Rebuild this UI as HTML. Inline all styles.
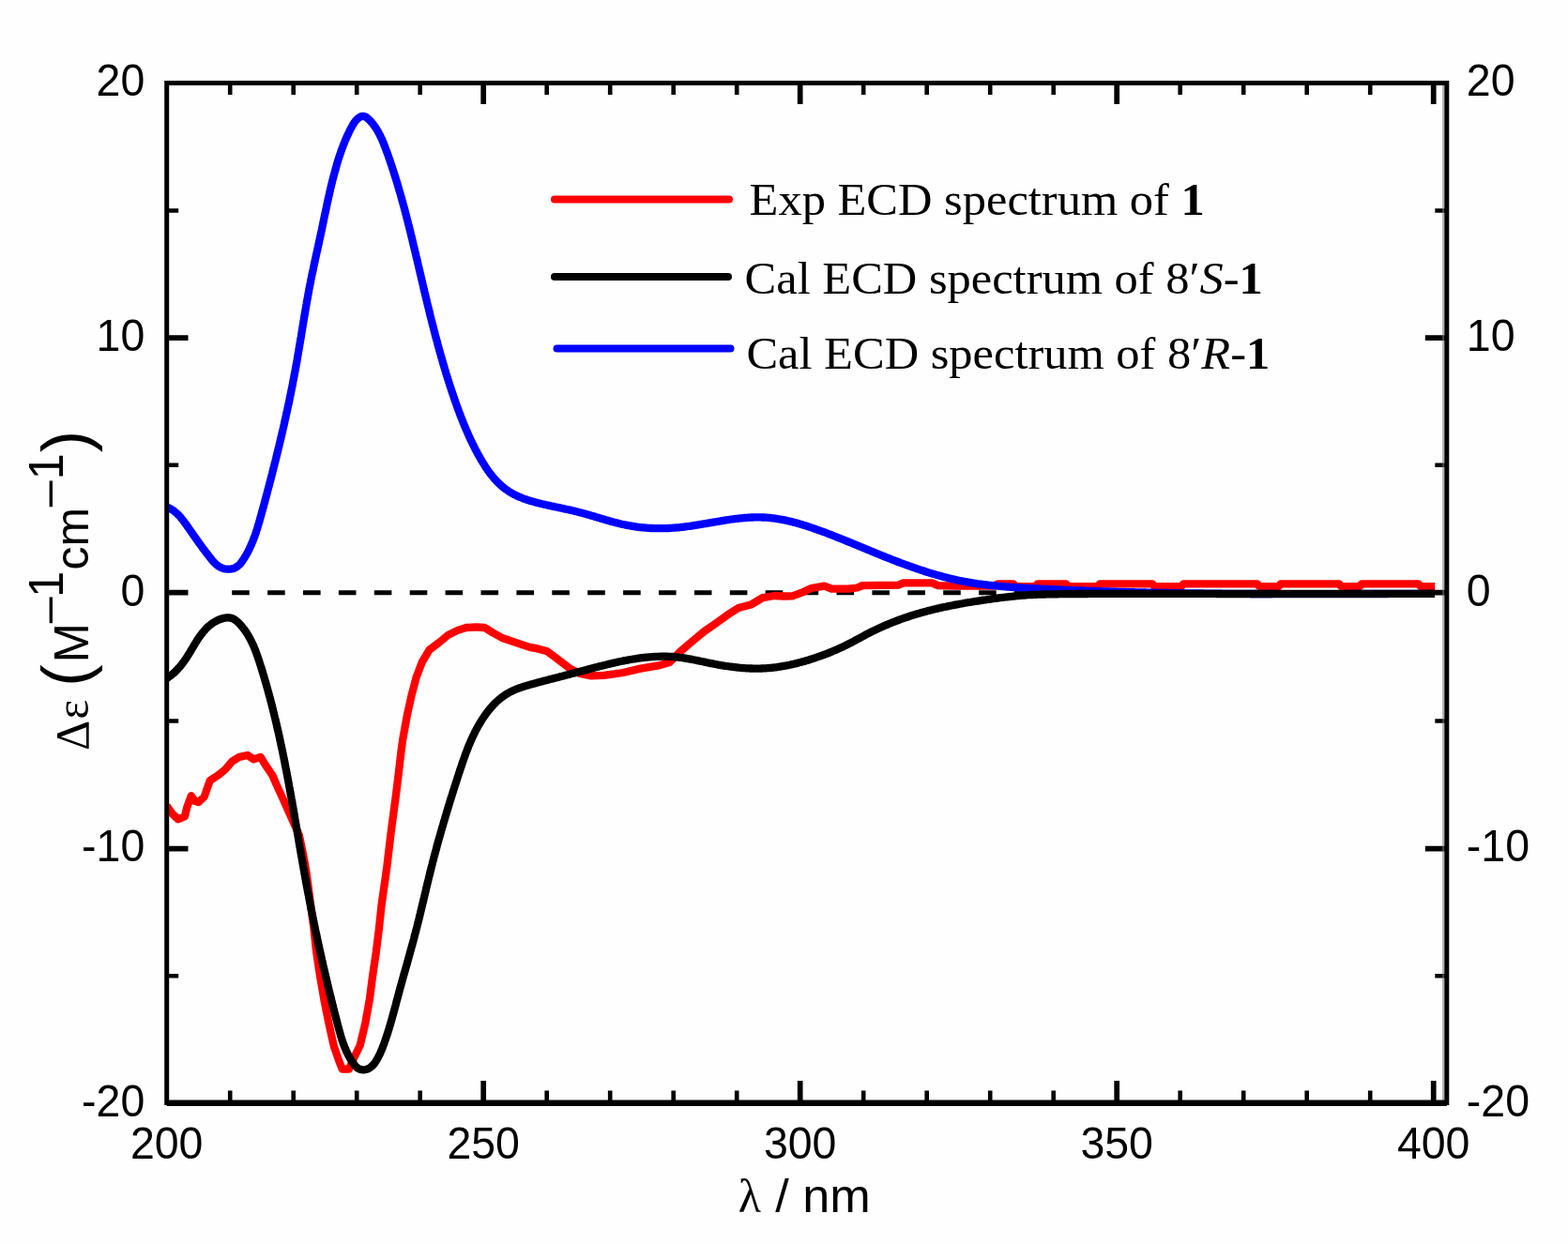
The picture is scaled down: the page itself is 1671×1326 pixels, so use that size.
<!DOCTYPE html>
<html lang="en">
<head>
<meta charset="utf-8">
<title>ECD spectra</title>
<style>
html,body{margin:0;padding:0;background:#fefefe;}
body{width:1671px;height:1326px;overflow:hidden;}
svg{display:block;}
.sans{font-family:"Liberation Sans",Arial,Helvetica,sans-serif;}
.serif{font-family:"Liberation Serif","Times New Roman",Times,serif;}
</style>
</head>
<body>
<svg width="1671" height="1326" viewBox="0 0 1671 1326">
<rect width="1671" height="1326" fill="#fefefe"/>
<defs><clipPath id="pc"><rect x="177.7" y="88.5" width="1364.1" height="1087.1"/></clipPath></defs>
<g fill="none" stroke-linejoin="round" stroke-linecap="butt" clip-path="url(#pc)">
<path d="M247.2,631.7h18.6M285.1,631.7h18.6M323.0,631.7h18.6M360.9,631.7h18.6M398.8,631.7h18.6M436.7,631.7h18.6M474.6,631.7h18.6M512.5,631.7h18.6M550.4,631.7h18.6M588.3,631.7h18.6M626.2,631.7h18.6M664.1,631.7h18.6M702.0,631.7h18.6M739.9,631.7h18.6M777.8,631.7h18.6M815.7,631.7h18.6M853.6,631.7h18.6M891.5,631.7h18.6M929.4,631.7h18.6M967.3,631.7h18.6M1005.2,631.7h18.6M1043.1,631.7h18.6M1081.0,631.7h18.6M1118.9,631.7h18.6M1156.8,631.7h18.6M1194.7,631.7h18.6M1232.6,631.7h18.6M1270.5,631.7h18.6M1308.4,631.7h18.6M1346.3,631.7h18.6M1384.2,631.7h18.6M1422.1,631.7h18.6M1460.0,631.7h18.6M1497.9,631.7h18.6" stroke="#000" stroke-width="5.1"/>
<path d="M177.7,859.0L179.4,861.4L183.8,867.7L190.0,873.3L196.9,870.2L199.4,860.1L203.8,848.2L207.6,853.9L211.3,855.1L217.6,849.5L221.3,838.9L223.8,832.0L232.6,826.3L240.1,820.1L247.6,811.3L255.1,806.9L263.9,805.0L270.2,809.4L277.7,806.9L282.7,815.1L290.2,826.3L295.2,837.6L301.5,851.4L306.5,862.6L313.0,877.0L318.8,890.2L321.9,905.2L324.4,917.7L326.9,932.8L330.5,960.0L334.5,990.0L337.2,1015.0L341.0,1040.1L345.3,1065.1L350.3,1090.2L355.8,1115.2L361.3,1131.0L364.8,1139.7L371.8,1139.7L377.3,1127.5L383.8,1114.0L389.4,1090.2L393.9,1065.1L397.1,1040.1L400.8,1015.0L403.9,990.0L406.5,965.3L412.2,925.2L416.6,887.7L421.6,850.1L424.7,825.0L427.6,800.0L429.3,787.7L433.8,762.7L438.8,740.2L443.8,721.4L450.1,705.1L457.6,692.6L467.6,685.1L477.6,676.9L487.7,671.9L497.7,668.8L507.7,668.5L516.5,669.0L525.2,674.4L535.2,680.0L550.3,685.1L565.3,690.1L572.0,691.2L582.5,693.9L591.6,700.5L600.4,707.3L607.6,712.8L618.0,718.0L630.0,720.3L643.5,719.8L654.6,718.4L663.9,717.0L682.7,712.6L701.7,709.4L713.5,706.0L725.0,694.5L738.0,683.4L750.5,673.0L763.0,664.3L775.1,655.6L787.0,648.0L800.2,644.6L812.7,637.1L825.2,635.0L835.2,635.5L844.5,635.4L854.5,631.7L864.5,627.0L878.5,624.7L886.0,627.5L903.8,627.7L913.6,626.5L919.1,624.1L957.3,623.6L962.8,621.4L993.7,621.4L999.2,624.1L1017.3,624.7L1058.0,624.7L1063.6,622.3L1080.0,622.3L1082.0,625.1L1103.6,625.1L1105.6,622.3L1136.3,622.3L1138.3,625.1L1170.0,625.1L1172.0,622.3L1228.2,622.3L1230.2,625.1L1259.1,625.1L1261.1,622.3L1340.0,622.3L1342.0,625.1L1362.7,625.1L1364.7,622.3L1427.2,622.3L1429.2,625.1L1449.0,625.1L1451.0,622.3L1511.8,622.3L1513.8,625.1L1529.2,625.1" stroke="#ff0000" stroke-width="8.3"/>
<path d="M177.6,540.4L179.0,541.0L180.4,541.7L181.8,542.4L183.1,543.1L184.3,543.9L185.5,544.8L186.7,545.7L187.8,546.7L188.9,547.7L190.0,548.8L191.0,549.8L192.0,550.9L193.0,552.1L194.0,553.3L194.9,554.4L195.8,555.6L196.7,556.9L197.6,558.1L198.5,559.3L199.4,560.5L200.2,561.8L201.1,563.0L202.0,564.3L202.8,565.5L203.7,566.7L204.5,567.9L205.4,569.2L206.2,570.4L207.1,571.6L207.9,572.8L208.8,574.0L209.7,575.2L210.5,576.5L211.4,577.7L212.2,578.9L213.1,580.1L214.0,581.3L214.8,582.5L215.7,583.7L216.6,584.9L217.5,586.1L218.4,587.3L219.3,588.5L220.2,589.7L221.2,590.9L222.1,592.1L223.0,593.3L224.0,594.5L225.0,595.7L225.9,596.9L226.9,598.1L228.0,599.2L229.0,600.3L230.1,601.4L231.3,602.4L232.5,603.3L233.7,604.1L235.1,604.8L236.4,605.4L237.9,605.9L239.3,606.3L240.8,606.5L242.3,606.7L243.8,606.7L245.3,606.6L246.8,606.4L248.2,606.1L249.5,605.7L250.9,605.1L252.1,604.3L253.3,603.5L254.4,602.5L255.5,601.5L256.5,600.4L257.4,599.2L258.3,597.9L259.2,596.6L260.0,595.3L260.8,594.0L261.6,592.7L262.4,591.4L263.2,590.0L263.9,588.7L264.6,587.3L265.3,586.0L265.9,584.6L266.6,583.2L267.2,581.9L267.8,580.5L268.4,579.1L269.0,577.7L269.6,576.3L270.1,574.9L270.6,573.5L271.2,572.1L271.7,570.7L272.2,569.3L272.7,567.9L273.1,566.5L273.6,565.0L274.1,563.6L274.5,562.2L274.9,560.8L275.4,559.3L275.8,557.9L276.2,556.5L276.6,555.0L277.0,553.6L277.4,552.1L277.8,550.7L278.2,549.3L278.6,547.8L279.0,546.4L279.4,544.9L279.8,543.5L280.2,542.0L280.6,540.6L281.0,539.1L281.4,537.7L281.8,536.2L282.2,534.8L282.5,533.4L282.9,531.9L283.3,530.5L283.7,529.0L284.1,527.6L284.5,526.1L284.9,524.7L285.2,523.2L285.6,521.8L286.0,520.3L286.4,518.9L286.8,517.4L287.2,516.0L287.5,514.5L287.9,513.1L288.3,511.6L288.7,510.2L289.0,508.7L289.4,507.3L289.8,505.8L290.2,504.4L290.5,502.9L290.9,501.4L291.3,500.0L291.6,498.5L292.0,497.1L292.4,495.6L292.7,494.2L293.1,492.7L293.5,491.3L293.8,489.8L294.2,488.4L294.5,486.9L294.9,485.4L295.3,484.0L295.6,482.5L296.0,481.1L296.3,479.6L296.7,478.2L297.0,476.7L297.4,475.2L297.7,473.8L298.1,472.3L298.4,470.9L298.8,469.4L299.1,467.9L299.5,466.5L299.8,465.0L300.2,463.6L300.5,462.1L300.8,460.6L301.2,459.2L301.5,457.7L301.9,456.2L302.2,454.8L302.5,453.3L302.9,451.9L303.2,450.4L303.5,448.9L303.8,447.5L304.2,446.0L304.5,444.5L304.8,443.1L305.1,441.6L305.5,440.1L305.8,438.7L306.1,437.2L306.4,435.7L306.7,434.3L307.0,432.8L307.4,431.3L307.7,429.9L308.0,428.4L308.3,426.9L308.6,425.5L308.9,424.0L309.2,422.5L309.5,421.1L309.8,419.6L310.1,418.1L310.4,416.6L310.7,415.2L311.0,413.7L311.3,412.2L311.6,410.8L311.9,409.3L312.1,407.8L312.4,406.3L312.7,404.9L313.0,403.4L313.3,401.9L313.6,400.4L313.8,399.0L314.1,397.5L314.4,396.0L314.7,394.5L314.9,393.1L315.2,391.6L315.5,390.1L315.7,388.6L316.0,387.2L316.3,385.7L316.5,384.2L316.8,382.7L317.0,381.3L317.3,379.8L317.5,378.3L317.8,376.8L318.0,375.3L318.3,373.9L318.5,372.4L318.8,370.9L319.0,369.4L319.3,367.9L319.5,366.5L319.8,365.0L320.0,363.5L320.3,362.0L320.5,360.5L320.8,359.1L321.0,357.6L321.2,356.1L321.5,354.6L321.7,353.1L322.0,351.7L322.2,350.2L322.5,348.7L322.7,347.2L322.9,345.7L323.2,344.3L323.4,342.8L323.7,341.3L323.9,339.8L324.2,338.3L324.4,336.9L324.7,335.4L324.9,333.9L325.2,332.4L325.4,331.0L325.7,329.5L325.9,328.0L326.2,326.5L326.4,325.0L326.7,323.6L326.9,322.1L327.2,320.6L327.5,319.1L327.7,317.7L328.0,316.2L328.3,314.7L328.5,313.2L328.8,311.8L329.1,310.3L329.3,308.8L329.6,307.3L329.9,305.9L330.2,304.4L330.5,302.9L330.8,301.5L331.1,300.0L331.3,298.5L331.6,297.0L331.9,295.6L332.2,294.1L332.5,292.6L332.8,291.2L333.2,289.7L333.5,288.2L333.8,286.8L334.1,285.3L334.4,283.8L334.7,282.4L335.0,280.9L335.3,279.4L335.7,278.0L336.0,276.5L336.3,275.0L336.6,273.6L336.9,272.1L337.2,270.7L337.6,269.2L337.9,267.7L338.2,266.3L338.5,264.8L338.9,263.3L339.2,261.9L339.5,260.4L339.8,258.9L340.1,257.5L340.4,256.0L340.8,254.5L341.1,253.1L341.4,251.6L341.7,250.1L342.0,248.7L342.3,247.2L342.7,245.7L343.0,244.3L343.3,242.8L343.6,241.3L343.9,239.8L344.2,238.4L344.5,236.9L344.8,235.4L345.1,234.0L345.4,232.5L345.7,231.0L346.0,229.6L346.3,228.1L346.7,226.6L347.0,225.1L347.3,223.7L347.6,222.2L347.9,220.7L348.2,219.3L348.5,217.8L348.8,216.3L349.1,214.9L349.5,213.4L349.8,211.9L350.1,210.5L350.4,209.0L350.8,207.5L351.1,206.1L351.4,204.6L351.8,203.2L352.1,201.7L352.4,200.2L352.8,198.8L353.1,197.3L353.5,195.9L353.9,194.4L354.2,193.0L354.6,191.5L354.9,190.1L355.3,188.6L355.7,187.2L356.1,185.7L356.5,184.3L356.9,182.8L357.3,181.4L357.7,179.9L358.1,178.5L358.5,177.1L358.9,175.6L359.3,174.2L359.7,172.8L360.2,171.3L360.6,169.9L361.1,168.5L361.5,167.0L362.0,165.6L362.5,164.2L363.0,162.8L363.4,161.4L363.9,160.0L364.5,158.6L365.0,157.2L365.5,155.8L366.0,154.4L366.6,153.0L367.2,151.6L367.7,150.2L368.3,148.8L368.9,147.4L369.5,146.0L370.1,144.7L370.8,143.3L371.4,141.9L372.1,140.6L372.7,139.2L373.4,137.9L374.1,136.5L374.9,135.2L375.6,133.8L376.4,132.5L377.2,131.2L378.1,129.9L379.1,128.7L380.1,127.5L381.3,126.4L382.5,125.4L383.7,124.6L385.0,124.1L386.3,123.8L387.5,123.9L388.8,124.2L390.0,124.8L391.2,125.6L392.3,126.6L393.5,127.7L394.6,128.8L395.6,130.0L396.6,131.2L397.6,132.4L398.5,133.6L399.4,134.9L400.3,136.1L401.1,137.4L401.9,138.7L402.7,140.0L403.4,141.3L404.1,142.6L404.8,144.0L405.5,145.3L406.1,146.7L406.8,148.0L407.4,149.4L408.0,150.8L408.5,152.2L409.1,153.6L409.6,155.0L410.2,156.4L410.7,157.8L411.2,159.2L411.7,160.6L412.3,162.0L412.8,163.4L413.3,164.8L413.8,166.2L414.3,167.7L414.8,169.1L415.3,170.5L415.8,171.9L416.2,173.3L416.7,174.8L417.2,176.2L417.7,177.6L418.1,179.0L418.6,180.4L419.1,181.9L419.5,183.3L420.0,184.7L420.4,186.2L420.9,187.6L421.3,189.0L421.8,190.4L422.2,191.9L422.7,193.3L423.1,194.7L423.5,196.2L424.0,197.6L424.4,199.0L424.8,200.5L425.2,201.9L425.6,203.4L426.1,204.8L426.5,206.2L426.9,207.7L427.3,209.1L427.7,210.6L428.1,212.0L428.5,213.4L428.9,214.9L429.3,216.3L429.7,217.8L430.1,219.2L430.5,220.7L430.9,222.1L431.3,223.6L431.6,225.0L432.0,226.5L432.4,227.9L432.8,229.4L433.2,230.8L433.5,232.3L433.9,233.7L434.3,235.2L434.7,236.6L435.0,238.1L435.4,239.5L435.8,241.0L436.1,242.4L436.5,243.9L436.8,245.3L437.2,246.8L437.6,248.3L437.9,249.7L438.3,251.2L438.6,252.6L439.0,254.1L439.3,255.5L439.7,257.0L440.0,258.5L440.4,259.9L440.7,261.4L441.1,262.8L441.4,264.3L441.8,265.8L442.1,267.2L442.5,268.7L442.8,270.1L443.2,271.6L443.5,273.1L443.9,274.5L444.2,276.0L444.6,277.4L444.9,278.9L445.2,280.4L445.6,281.8L445.9,283.3L446.3,284.7L446.6,286.2L446.9,287.7L447.3,289.1L447.6,290.6L448.0,292.1L448.3,293.5L448.7,295.0L449.0,296.4L449.3,297.9L449.7,299.4L450.0,300.8L450.4,302.3L450.7,303.7L451.1,305.2L451.4,306.7L451.7,308.1L452.1,309.6L452.4,311.1L452.8,312.5L453.1,314.0L453.5,315.4L453.8,316.9L454.2,318.4L454.5,319.8L454.9,321.3L455.2,322.7L455.6,324.2L455.9,325.7L456.3,327.1L456.7,328.6L457.0,330.0L457.4,331.5L457.7,332.9L458.1,334.4L458.4,335.9L458.8,337.3L459.2,338.8L459.5,340.2L459.9,341.7L460.3,343.1L460.6,344.6L461.0,346.1L461.4,347.5L461.8,349.0L462.1,350.4L462.5,351.9L462.9,353.3L463.3,354.8L463.6,356.2L464.0,357.7L464.4,359.1L464.8,360.6L465.2,362.0L465.6,363.5L465.9,364.9L466.3,366.4L466.7,367.8L467.1,369.3L467.5,370.7L467.9,372.2L468.3,373.6L468.7,375.0L469.1,376.5L469.5,377.9L469.9,379.4L470.3,380.8L470.8,382.3L471.2,383.7L471.6,385.1L472.0,386.6L472.4,388.0L472.9,389.4L473.3,390.9L473.7,392.3L474.1,393.8L474.6,395.2L475.0,396.6L475.4,398.1L475.9,399.5L476.3,400.9L476.8,402.3L477.2,403.8L477.7,405.2L478.1,406.6L478.6,408.1L479.0,409.5L479.5,410.9L479.9,412.3L480.4,413.8L480.9,415.2L481.3,416.6L481.8,418.0L482.3,419.4L482.8,420.9L483.3,422.3L483.7,423.7L484.2,425.1L484.7,426.5L485.2,427.9L485.7,429.3L486.2,430.8L486.7,432.2L487.2,433.6L487.7,435.0L488.2,436.4L488.8,437.8L489.3,439.2L489.8,440.6L490.3,442.0L490.9,443.4L491.4,444.8L492.0,446.2L492.5,447.6L493.1,449.0L493.6,450.4L494.2,451.7L494.7,453.1L495.3,454.5L495.9,455.9L496.5,457.3L497.1,458.7L497.7,460.0L498.3,461.4L498.9,462.8L499.5,464.2L500.1,465.5L500.7,466.9L501.4,468.3L502.0,469.6L502.7,471.0L503.3,472.3L504.0,473.7L504.7,475.0L505.3,476.4L506.0,477.7L506.7,479.1L507.4,480.4L508.1,481.8L508.8,483.1L509.5,484.4L510.3,485.8L511.0,487.1L511.8,488.4L512.5,489.7L513.3,491.0L514.1,492.3L514.9,493.6L515.7,494.9L516.5,496.2L517.3,497.5L518.1,498.7L519.0,500.0L519.8,501.2L520.7,502.4L521.6,503.7L522.5,504.9L523.4,506.0L524.3,507.2L525.3,508.4L526.2,509.5L527.2,510.6L528.2,511.7L529.2,512.8L530.2,513.9L531.3,514.9L532.3,515.9L533.4,516.9L534.5,517.9L535.6,518.9L536.8,519.8L537.9,520.7L539.1,521.6L540.3,522.4L541.5,523.3L542.7,524.1L544.0,524.8L545.3,525.6L546.6,526.3L547.9,527.0L549.2,527.7L550.6,528.3L551.9,529.0L553.3,529.6L554.7,530.2L556.1,530.7L557.5,531.3L558.9,531.8L560.4,532.3L561.8,532.8L563.3,533.3L564.7,533.7L566.2,534.2L567.7,534.6L569.2,535.0L570.6,535.4L572.1,535.8L573.6,536.2L575.1,536.6L576.6,536.9L578.1,537.3L579.6,537.6L581.0,538.0L582.5,538.3L584.0,538.6L585.5,538.9L586.9,539.3L588.4,539.6L589.9,539.9L591.3,540.2L592.8,540.5L594.2,540.8L595.7,541.1L597.1,541.4L598.6,541.7L600.0,542.0L601.5,542.4L602.9,542.7L604.4,543.0L605.8,543.3L607.3,543.6L608.7,543.9L610.1,544.3L611.6,544.6L613.0,545.0L614.5,545.3L615.9,545.7L617.4,546.0L618.8,546.4L620.2,546.8L621.7,547.2L623.1,547.6L624.6,548.0L626.0,548.4L627.5,548.8L628.9,549.2L630.4,549.7L631.8,550.1L633.3,550.5L634.7,551.0L636.2,551.4L637.6,551.8L639.1,552.3L640.5,552.7L642.0,553.1L643.4,553.6L644.9,554.0L646.4,554.4L647.8,554.8L649.3,555.3L650.7,555.7L652.2,556.1L653.7,556.5L655.1,556.8L656.6,557.2L658.0,557.6L659.5,558.0L661.0,558.3L662.4,558.7L663.9,559.0L665.4,559.3L666.8,559.6L668.3,559.9L669.8,560.2L671.3,560.4L672.7,560.7L674.2,560.9L675.7,561.2L677.1,561.4L678.6,561.6L680.1,561.8L681.6,562.0L683.1,562.1L684.5,562.3L686.0,562.4L687.5,562.6L689.0,562.7L690.5,562.8L691.9,562.9L693.4,563.0L694.9,563.0L696.4,563.1L697.9,563.1L699.3,563.2L700.8,563.2L702.3,563.2L703.8,563.2L705.3,563.2L706.8,563.2L708.3,563.2L709.8,563.1L711.2,563.1L712.7,563.0L714.2,562.9L715.7,562.8L717.2,562.7L718.7,562.6L720.2,562.5L721.7,562.4L723.1,562.3L724.6,562.1L726.1,561.9L727.6,561.8L729.1,561.6L730.6,561.4L732.1,561.2L733.6,561.0L735.1,560.8L736.6,560.6L738.1,560.4L739.5,560.1L741.0,559.9L742.5,559.7L744.0,559.4L745.5,559.2L747.0,558.9L748.5,558.7L750.0,558.4L751.5,558.2L753.0,557.9L754.5,557.7L756.0,557.4L757.5,557.2L758.9,556.9L760.4,556.6L761.9,556.4L763.4,556.1L764.9,555.9L766.4,555.6L767.9,555.4L769.4,555.1L770.9,554.9L772.4,554.6L773.9,554.4L775.3,554.2L776.8,554.0L778.3,553.7L779.8,553.5L781.3,553.3L782.8,553.1L784.3,552.9L785.8,552.8L787.3,552.6L788.8,552.4L790.2,552.3L791.7,552.1L793.2,552.0L794.7,551.9L796.2,551.8L797.7,551.7L799.2,551.6L800.7,551.5L802.1,551.5L803.6,551.4L805.1,551.4L806.6,551.4L808.1,551.4L809.6,551.4L811.1,551.4L812.5,551.5L814.0,551.5L815.5,551.6L817.0,551.7L818.5,551.8L819.9,551.9L821.4,552.1L822.9,552.3L824.4,552.4L825.9,552.6L827.3,552.8L828.8,553.1L830.3,553.3L831.8,553.6L833.2,553.8L834.7,554.1L836.2,554.4L837.7,554.7L839.1,555.1L840.6,555.4L842.1,555.7L843.5,556.1L845.0,556.5L846.4,556.9L847.9,557.2L849.4,557.6L850.8,558.1L852.3,558.5L853.7,558.9L855.2,559.3L856.6,559.8L858.1,560.2L859.5,560.7L861.0,561.2L862.4,561.6L863.8,562.1L865.3,562.6L866.7,563.1L868.1,563.6L869.5,564.1L871.0,564.6L872.4,565.1L873.8,565.6L875.2,566.1L876.6,566.6L878.1,567.2L879.5,567.7L880.9,568.2L882.3,568.8L883.7,569.3L885.1,569.8L886.5,570.4L887.9,570.9L889.3,571.5L890.6,572.0L892.0,572.6L893.4,573.1L894.8,573.7L896.2,574.2L897.6,574.8L899.0,575.3L900.4,575.9L901.7,576.5L903.1,577.0L904.5,577.6L905.9,578.2L907.3,578.7L908.6,579.3L910.0,579.9L911.4,580.4L912.8,581.0L914.2,581.6L915.5,582.1L916.9,582.7L918.3,583.3L919.7,583.9L921.0,584.4L922.4,585.0L923.8,585.6L925.2,586.2L926.6,586.7L927.9,587.3L929.3,587.9L930.7,588.4L932.1,589.0L933.5,589.6L934.9,590.1L936.3,590.7L937.7,591.3L939.0,591.8L940.4,592.4L941.8,593.0L943.2,593.5L944.6,594.1L946.0,594.6L947.4,595.2L948.8,595.7L950.2,596.3L951.6,596.8L953.0,597.4L954.4,597.9L955.8,598.5L957.2,599.0L958.6,599.5L960.0,600.1L961.5,600.6L962.9,601.1L964.3,601.6L965.7,602.1L967.1,602.7L968.5,603.2L969.9,603.7L971.3,604.2L972.8,604.7L974.2,605.2L975.6,605.7L977.0,606.2L978.4,606.6L979.9,607.1L981.3,607.6L982.7,608.1L984.2,608.5L985.6,609.0L987.0,609.5L988.4,609.9L989.9,610.4L991.3,610.8L992.7,611.2L994.2,611.7L995.6,612.1L997.1,612.5L998.5,612.9L999.9,613.3L1001.4,613.7L1002.8,614.1L1004.3,614.5L1005.7,614.9L1007.2,615.3L1008.6,615.6L1010.1,616.0L1011.5,616.4L1013.0,616.7L1014.4,617.1L1015.9,617.4L1017.4,617.7L1018.8,618.1L1020.3,618.4L1021.7,618.7L1023.2,619.0L1024.7,619.3L1026.1,619.6L1027.6,619.9L1029.1,620.1L1030.5,620.4L1032.0,620.7L1033.5,620.9L1035.0,621.1L1036.4,621.4L1037.9,621.6L1039.4,621.8L1040.9,622.1L1042.4,622.3L1043.8,622.5L1045.3,622.7L1046.8,622.9L1048.3,623.1L1049.8,623.2L1051.3,623.4L1052.8,623.6L1054.2,623.8L1055.7,623.9L1057.2,624.1L1058.7,624.2L1060.2,624.4L1061.7,624.5L1063.2,624.7L1064.7,624.8L1066.2,624.9L1067.7,625.1L1069.2,625.2L1070.7,625.3L1072.2,625.4L1073.7,625.6L1075.2,625.7L1076.7,625.8L1078.2,625.9L1079.7,626.0L1081.2,626.1L1082.7,626.2L1084.2,626.3L1085.7,626.4L1087.2,626.5L1088.7,626.6L1090.2,626.6L1091.7,626.7L1093.2,626.8L1094.7,626.9L1096.2,627.0L1097.7,627.1L1099.2,627.1L1100.7,627.2L1102.2,627.3L1103.7,627.4L1105.2,627.5L1106.7,627.5L1108.2,627.6L1109.7,627.7L1111.2,627.8L1112.7,627.8L1114.2,627.9L1115.7,628.0L1117.2,628.0L1118.7,628.1L1120.2,628.2L1121.7,628.2L1123.2,628.3L1124.7,628.4L1126.2,628.5L1127.7,628.5L1129.2,628.6L1130.7,628.7L1132.2,628.7L1133.7,628.8L1135.2,628.8L1136.7,628.9L1138.2,629.0L1139.7,629.0L1141.2,629.1L1142.7,629.2L1144.2,629.2L1145.7,629.3L1147.2,629.3L1148.7,629.4L1150.2,629.4L1151.7,629.5L1153.2,629.6L1154.7,629.6L1156.2,629.7L1157.7,629.7L1159.2,629.8L1160.7,629.8L1162.2,629.9L1163.7,629.9L1165.1,630.0L1166.6,630.0L1168.1,630.1L1169.6,630.1L1171.1,630.2L1172.6,630.2L1174.1,630.3L1175.6,630.3L1177.1,630.4L1178.6,630.4L1180.1,630.5L1181.6,630.5L1183.1,630.6L1184.6,630.6L1186.1,630.6L1187.6,630.7L1189.1,630.7L1190.6,630.8L1192.1,630.8L1193.6,630.9L1195.1,630.9L1196.6,630.9L1198.1,631.0L1199.6,631.0L1201.1,631.1L1202.6,631.1L1204.1,631.1L1205.6,631.2L1207.1,631.2L1208.6,631.2L1210.1,631.3L1211.6,631.3L1213.1,631.4L1214.6,631.4L1216.1,631.4L1217.6,631.5L1219.1,631.5L1220.6,631.5L1222.1,631.6L1223.6,631.6L1225.1,631.6L1226.6,631.7L1228.1,631.7L1229.6,631.7L1231.1,631.7L1232.6,631.8L1234.1,631.8L1235.6,631.8L1237.1,631.9L1238.6,631.9L1240.1,631.9L1241.6,631.9L1243.1,632.0L1244.6,632.0L1246.1,632.0L1247.6,632.1L1249.1,632.1L1250.6,632.1L1252.1,632.1L1253.6,632.2L1255.1,632.2L1256.6,632.2L1258.1,632.2L1259.6,632.2L1261.1,632.3L1262.6,632.3L1264.1,632.3L1265.6,632.3L1267.1,632.4L1268.6,632.4L1270.1,632.4L1271.6,632.4L1273.1,632.4L1274.6,632.5L1276.1,632.5L1277.6,632.5L1279.1,632.5L1280.6,632.5L1282.1,632.5L1283.6,632.6L1285.1,632.6L1286.6,632.6L1288.1,632.6L1289.6,632.6L1291.1,632.6L1292.6,632.7L1294.1,632.7L1295.6,632.7L1297.1,632.7L1298.6,632.7L1300.1,632.7L1301.6,632.7L1303.1,632.8L1304.6,632.8L1306.1,632.8L1307.6,632.8L1309.1,632.8L1310.6,632.8L1312.1,632.8L1313.6,632.8L1315.1,632.8L1316.6,632.9L1318.1,632.9L1319.6,632.9L1321.1,632.9L1322.6,632.9L1324.1,632.9L1325.6,632.9L1327.1,632.9L1328.6,632.9L1330.1,632.9L1331.6,632.9L1333.1,633.0L1334.6,633.0L1336.1,633.0L1337.6,633.0L1339.1,633.0L1340.6,633.0L1342.1,633.0L1343.6,633.0L1345.1,633.0L1346.6,633.0L1348.1,633.0L1349.6,633.0L1351.1,633.0L1352.6,633.0L1354.1,633.0L1355.6,633.0L1357.1,633.0L1358.6,633.0L1360.1,633.1L1361.6,633.1L1363.1,633.1L1364.6,633.1L1366.1,633.1L1367.6,633.1L1369.1,633.1L1370.6,633.1L1372.1,633.1L1373.6,633.1L1375.1,633.1L1376.6,633.1L1378.1,633.1L1379.6,633.1L1381.1,633.1L1382.6,633.1L1384.1,633.1L1385.6,633.1L1387.1,633.1L1388.6,633.1L1390.1,633.1L1391.6,633.1L1393.1,633.1L1394.6,633.1L1396.1,633.1L1397.6,633.1L1399.1,633.1L1400.6,633.1L1402.1,633.1L1403.6,633.1L1405.1,633.1L1406.6,633.1L1408.1,633.1L1409.6,633.1L1411.1,633.1L1412.6,633.1L1414.1,633.1L1415.6,633.1L1417.1,633.1L1418.6,633.1L1420.1,633.1L1421.6,633.1L1423.1,633.1L1424.6,633.1L1426.1,633.1L1427.6,633.1L1429.1,633.1L1430.6,633.1L1432.1,633.1L1433.6,633.1L1435.1,633.0L1436.6,633.0L1438.1,633.0L1439.6,633.0L1441.1,633.0L1442.6,633.0L1444.1,633.0L1445.6,633.0L1447.1,633.0L1448.6,633.0L1450.1,633.0L1451.6,633.0L1453.1,633.0L1454.6,633.0L1456.1,633.0L1457.6,633.0L1459.1,633.0L1460.6,633.0L1462.1,633.0L1463.6,633.0L1465.1,633.0L1466.6,633.0L1468.1,633.0L1469.6,633.0L1471.1,633.0L1472.6,633.0L1474.1,633.0L1475.6,633.0L1477.1,633.0L1478.6,633.0L1480.1,632.9L1481.6,632.9L1483.1,632.9L1484.6,632.9L1486.1,632.9L1487.6,632.9L1489.1,632.9L1490.6,632.9L1492.1,632.9L1493.6,632.9L1495.1,632.9L1496.6,632.9L1498.1,632.9L1499.6,632.9L1501.1,632.9L1502.6,632.9L1504.1,632.9L1505.6,632.9L1507.1,632.9L1508.6,632.9L1510.1,632.9L1511.6,632.9L1513.1,632.9L1514.6,632.9L1516.1,632.9L1517.6,632.9L1519.1,632.9L1520.6,632.9L1522.1,632.9L1523.6,632.9L1525.1,632.9L1526.6,632.9L1528.1,632.9L1529.0,632.9" stroke="#0000ff" stroke-width="8.3"/>
<path d="M177.7,723.0L179.0,722.2L180.2,721.3L181.5,720.4L182.7,719.5L183.8,718.5L185.0,717.6L186.1,716.6L187.2,715.5L188.2,714.5L189.2,713.4L190.2,712.3L191.2,711.2L192.2,710.1L193.1,708.9L194.0,707.7L194.9,706.6L195.8,705.4L196.7,704.1L197.5,702.9L198.4,701.7L199.2,700.4L200.0,699.1L200.8,697.9L201.6,696.6L202.4,695.3L203.2,694.0L203.9,692.7L204.7,691.4L205.5,690.1L206.3,688.8L207.1,687.5L207.8,686.2L208.6,684.9L209.4,683.6L210.2,682.3L211.1,681.1L211.9,679.8L212.8,678.6L213.6,677.4L214.5,676.2L215.4,675.0L216.3,673.8L217.3,672.7L218.3,671.6L219.3,670.5L220.3,669.4L221.4,668.4L222.5,667.4L223.7,666.4L224.8,665.5L226.0,664.6L227.3,663.8L228.6,663.0L229.9,662.2L231.3,661.5L232.7,660.8L234.2,660.2L235.7,659.7L237.2,659.2L238.7,658.8L240.2,658.6L241.7,658.4L243.1,658.4L244.6,658.5L246.0,658.7L247.4,659.1L248.7,659.7L249.9,660.4L251.2,661.2L252.3,662.1L253.5,663.1L254.6,664.2L255.6,665.3L256.6,666.4L257.6,667.6L258.6,668.7L259.5,669.9L260.4,671.1L261.3,672.4L262.1,673.6L263.0,674.8L263.8,676.1L264.5,677.4L265.3,678.7L266.0,680.0L266.7,681.3L267.4,682.6L268.1,684.0L268.7,685.3L269.4,686.7L270.0,688.0L270.6,689.4L271.1,690.8L271.7,692.2L272.3,693.6L272.8,695.0L273.3,696.4L273.8,697.8L274.3,699.2L274.8,700.6L275.3,702.1L275.8,703.5L276.3,704.9L276.7,706.4L277.2,707.8L277.6,709.2L278.1,710.7L278.5,712.1L279.0,713.6L279.4,715.0L279.9,716.4L280.3,717.9L280.7,719.3L281.2,720.8L281.6,722.2L282.0,723.7L282.4,725.1L282.9,726.6L283.3,728.0L283.7,729.4L284.1,730.9L284.5,732.3L284.9,733.8L285.3,735.2L285.7,736.7L286.1,738.1L286.5,739.6L286.9,741.0L287.3,742.5L287.7,743.9L288.1,745.4L288.4,746.8L288.8,748.3L289.2,749.7L289.6,751.2L289.9,752.6L290.3,754.1L290.7,755.5L291.0,757.0L291.4,758.4L291.8,759.9L292.1,761.4L292.5,762.8L292.8,764.3L293.2,765.7L293.5,767.2L293.9,768.6L294.2,770.1L294.5,771.5L294.9,773.0L295.2,774.5L295.6,775.9L295.9,777.4L296.2,778.8L296.6,780.3L296.9,781.8L297.2,783.2L297.5,784.7L297.9,786.1L298.2,787.6L298.5,789.1L298.8,790.5L299.1,792.0L299.4,793.5L299.7,794.9L300.1,796.4L300.4,797.9L300.7,799.3L301.0,800.8L301.3,802.3L301.6,803.7L301.9,805.2L302.2,806.7L302.5,808.1L302.8,809.6L303.1,811.1L303.4,812.5L303.6,814.0L303.9,815.5L304.2,816.9L304.5,818.4L304.8,819.9L305.1,821.4L305.4,822.8L305.6,824.3L305.9,825.8L306.2,827.2L306.5,828.7L306.8,830.2L307.0,831.7L307.3,833.1L307.6,834.6L307.9,836.1L308.1,837.6L308.4,839.0L308.7,840.5L308.9,842.0L309.2,843.5L309.5,844.9L309.7,846.4L310.0,847.9L310.3,849.4L310.5,850.9L310.8,852.3L311.1,853.8L311.3,855.3L311.6,856.8L311.8,858.3L312.1,859.7L312.4,861.2L312.6,862.7L312.9,864.2L313.1,865.6L313.4,867.1L313.6,868.6L313.9,870.1L314.2,871.6L314.4,873.1L314.7,874.5L314.9,876.0L315.2,877.5L315.4,879.0L315.7,880.5L315.9,881.9L316.2,883.4L316.5,884.9L316.7,886.4L317.0,887.9L317.2,889.3L317.5,890.8L317.7,892.3L318.0,893.8L318.2,895.3L318.5,896.7L318.7,898.2L319.0,899.7L319.2,901.2L319.5,902.7L319.8,904.1L320.0,905.6L320.3,907.1L320.5,908.6L320.8,910.1L321.0,911.5L321.3,913.0L321.6,914.5L321.8,916.0L322.1,917.5L322.3,918.9L322.6,920.4L322.9,921.9L323.1,923.4L323.4,924.8L323.6,926.3L323.9,927.8L324.2,929.3L324.4,930.8L324.7,932.2L325.0,933.7L325.2,935.2L325.5,936.7L325.8,938.1L326.0,939.6L326.3,941.1L326.6,942.6L326.8,944.0L327.1,945.5L327.4,947.0L327.7,948.5L327.9,949.9L328.2,951.4L328.5,952.9L328.8,954.3L329.1,955.8L329.3,957.3L329.6,958.8L329.9,960.2L330.2,961.7L330.5,963.2L330.8,964.6L331.1,966.1L331.3,967.6L331.6,969.0L331.9,970.5L332.2,972.0L332.5,973.4L332.8,974.9L333.1,976.4L333.4,977.8L333.7,979.3L334.0,980.8L334.3,982.2L334.6,983.7L334.9,985.2L335.2,986.6L335.5,988.1L335.8,989.6L336.1,991.0L336.4,992.5L336.7,994.0L337.0,995.4L337.4,996.9L337.7,998.4L338.0,999.8L338.3,1001.3L338.6,1002.7L338.9,1004.2L339.2,1005.7L339.6,1007.1L339.9,1008.6L340.2,1010.1L340.5,1011.5L340.8,1013.0L341.2,1014.5L341.5,1015.9L341.8,1017.4L342.1,1018.8L342.5,1020.3L342.8,1021.8L343.1,1023.2L343.5,1024.7L343.8,1026.1L344.1,1027.6L344.4,1029.1L344.8,1030.5L345.1,1032.0L345.5,1033.5L345.8,1034.9L346.1,1036.4L346.5,1037.8L346.8,1039.3L347.2,1040.8L347.5,1042.2L347.8,1043.7L348.2,1045.1L348.5,1046.6L348.9,1048.1L349.2,1049.5L349.6,1051.0L349.9,1052.4L350.3,1053.9L350.6,1055.4L351.0,1056.8L351.3,1058.3L351.7,1059.8L352.1,1061.2L352.4,1062.7L352.8,1064.1L353.1,1065.6L353.5,1067.1L353.9,1068.5L354.2,1070.0L354.6,1071.5L355.0,1072.9L355.3,1074.4L355.7,1075.8L356.1,1077.3L356.4,1078.8L356.8,1080.2L357.2,1081.7L357.5,1083.2L357.9,1084.6L358.3,1086.1L358.7,1087.5L359.1,1089.0L359.4,1090.5L359.8,1091.9L360.2,1093.4L360.6,1094.9L361.0,1096.3L361.4,1097.8L361.8,1099.2L362.2,1100.7L362.6,1102.1L363.0,1103.6L363.4,1105.0L363.9,1106.5L364.3,1107.9L364.8,1109.3L365.3,1110.7L365.8,1112.1L366.3,1113.6L366.8,1114.9L367.4,1116.3L367.9,1117.7L368.5,1119.1L369.1,1120.4L369.7,1121.8L370.4,1123.1L371.0,1124.4L371.7,1125.7L372.5,1127.0L373.2,1128.3L374.0,1129.6L374.8,1130.9L375.6,1132.1L376.4,1133.3L377.3,1134.5L378.2,1135.7L379.2,1136.8L380.3,1137.8L381.4,1138.7L382.7,1139.4L384.1,1139.9L385.5,1140.2L386.9,1140.3L388.4,1140.3L389.9,1140.0L391.4,1139.6L392.8,1139.0L394.1,1138.2L395.3,1137.3L396.5,1136.3L397.6,1135.2L398.6,1134.1L399.5,1132.8L400.4,1131.5L401.2,1130.2L402.0,1128.9L402.7,1127.5L403.5,1126.2L404.1,1124.8L404.8,1123.5L405.4,1122.1L406.0,1120.7L406.6,1119.3L407.2,1117.9L407.7,1116.5L408.2,1115.2L408.8,1113.8L409.3,1112.4L409.8,1110.9L410.3,1109.5L410.8,1108.1L411.3,1106.7L411.7,1105.3L412.2,1103.9L412.7,1102.5L413.1,1101.0L413.6,1099.6L414.0,1098.2L414.5,1096.8L414.9,1095.3L415.3,1093.9L415.8,1092.5L416.2,1091.0L416.6,1089.6L417.0,1088.1L417.4,1086.7L417.8,1085.3L418.2,1083.8L418.6,1082.4L419.0,1080.9L419.4,1079.5L419.8,1078.0L420.2,1076.6L420.6,1075.1L421.0,1073.7L421.4,1072.2L421.8,1070.8L422.1,1069.3L422.5,1067.9L422.9,1066.4L423.3,1065.0L423.7,1063.5L424.1,1062.1L424.5,1060.6L424.9,1059.2L425.2,1057.7L425.6,1056.3L426.0,1054.8L426.4,1053.4L426.8,1051.9L427.2,1050.5L427.6,1049.0L428.0,1047.6L428.4,1046.1L428.8,1044.7L429.2,1043.2L429.6,1041.8L430.0,1040.4L430.4,1038.9L430.8,1037.5L431.2,1036.0L431.7,1034.6L432.1,1033.1L432.5,1031.7L432.9,1030.2L433.3,1028.8L433.7,1027.4L434.1,1025.9L434.5,1024.5L434.9,1023.0L435.3,1021.6L435.7,1020.1L436.1,1018.7L436.5,1017.2L436.9,1015.8L437.3,1014.3L437.7,1012.9L438.1,1011.5L438.5,1010.0L438.9,1008.6L439.3,1007.1L439.7,1005.7L440.1,1004.2L440.5,1002.8L440.9,1001.3L441.3,999.9L441.6,998.4L442.0,997.0L442.4,995.5L442.8,994.1L443.2,992.6L443.5,991.2L443.9,989.7L444.3,988.3L444.6,986.8L445.0,985.4L445.4,983.9L445.7,982.5L446.1,981.0L446.5,979.6L446.8,978.1L447.2,976.6L447.5,975.2L447.9,973.7L448.2,972.3L448.6,970.8L448.9,969.4L449.3,967.9L449.6,966.4L450.0,965.0L450.3,963.5L450.7,962.1L451.0,960.6L451.4,959.1L451.7,957.7L452.1,956.2L452.4,954.8L452.8,953.3L453.1,951.8L453.5,950.4L453.8,948.9L454.1,947.5L454.5,946.0L454.8,944.6L455.2,943.1L455.5,941.6L455.9,940.2L456.2,938.7L456.6,937.3L456.9,935.8L457.3,934.3L457.7,932.9L458.0,931.4L458.4,930.0L458.7,928.5L459.1,927.1L459.5,925.6L459.8,924.2L460.2,922.7L460.6,921.3L460.9,919.8L461.3,918.3L461.7,916.9L462.1,915.4L462.4,914.0L462.8,912.5L463.2,911.1L463.6,909.6L464.0,908.2L464.4,906.7L464.8,905.3L465.2,903.8L465.5,902.4L465.9,900.9L466.3,899.5L466.7,898.0L467.1,896.6L467.5,895.2L467.9,893.7L468.3,892.3L468.8,890.8L469.2,889.4L469.6,887.9L470.0,886.5L470.4,885.0L470.8,883.6L471.2,882.2L471.6,880.7L472.1,879.3L472.5,877.8L472.9,876.4L473.3,875.0L473.8,873.5L474.2,872.1L474.6,870.6L475.0,869.2L475.5,867.8L475.9,866.3L476.3,864.9L476.8,863.5L477.2,862.0L477.6,860.6L478.1,859.1L478.5,857.7L479.0,856.3L479.4,854.8L479.8,853.4L480.3,852.0L480.7,850.5L481.2,849.1L481.6,847.7L482.1,846.2L482.5,844.8L483.0,843.4L483.4,842.0L483.9,840.5L484.3,839.1L484.8,837.7L485.3,836.2L485.7,834.8L486.2,833.4L486.6,832.0L487.1,830.5L487.5,829.1L488.0,827.7L488.5,826.2L488.9,824.8L489.4,823.4L489.9,822.0L490.3,820.5L490.8,819.1L491.3,817.7L491.8,816.3L492.2,814.9L492.7,813.4L493.2,812.0L493.7,810.6L494.2,809.2L494.7,807.8L495.2,806.4L495.7,805.0L496.2,803.6L496.7,802.2L497.3,800.8L497.8,799.4L498.3,798.0L498.9,796.6L499.4,795.2L500.0,793.8L500.6,792.4L501.2,791.1L501.8,789.7L502.4,788.3L503.0,787.0L503.6,785.6L504.3,784.3L504.9,782.9L505.6,781.6L506.2,780.2L506.9,778.9L507.6,777.5L508.3,776.2L509.0,774.9L509.8,773.6L510.5,772.3L511.3,771.0L512.1,769.7L512.9,768.4L513.7,767.1L514.5,765.8L515.4,764.6L516.2,763.3L517.1,762.1L518.0,760.8L518.9,759.6L519.8,758.4L520.8,757.2L521.7,756.0L522.7,754.9L523.7,753.7L524.7,752.6L525.7,751.5L526.7,750.4L527.8,749.4L528.9,748.3L530.0,747.3L531.1,746.3L532.2,745.4L533.4,744.4L534.5,743.5L535.7,742.6L536.9,741.7L538.1,740.9L539.4,740.1L540.6,739.3L541.9,738.6L543.2,737.9L544.5,737.2L545.9,736.5L547.2,735.9L548.6,735.3L549.9,734.7L551.3,734.2L552.7,733.7L554.1,733.1L555.6,732.7L557.0,732.2L558.4,731.7L559.9,731.3L561.3,730.8L562.8,730.4L564.2,730.0L565.7,729.6L567.1,729.2L568.6,728.8L570.0,728.4L571.5,728.0L573.0,727.6L574.4,727.2L575.9,726.8L577.3,726.4L578.8,726.0L580.2,725.6L581.7,725.3L583.1,724.9L584.6,724.5L586.0,724.1L587.5,723.7L589.0,723.4L590.4,723.0L591.9,722.6L593.3,722.3L594.8,721.9L596.2,721.5L597.7,721.1L599.1,720.8L600.5,720.4L602.0,720.0L603.4,719.6L604.9,719.3L606.3,718.9L607.8,718.5L609.2,718.1L610.7,717.7L612.1,717.4L613.6,717.0L615.0,716.6L616.5,716.2L617.9,715.8L619.3,715.4L620.8,715.1L622.2,714.7L623.7,714.3L625.1,713.9L626.6,713.5L628.0,713.1L629.5,712.7L630.9,712.4L632.3,712.0L633.8,711.6L635.2,711.2L636.7,710.9L638.1,710.5L639.6,710.1L641.0,709.8L642.5,709.4L644.0,709.0L645.4,708.7L646.9,708.3L648.3,708.0L649.8,707.6L651.2,707.3L652.7,706.9L654.2,706.6L655.6,706.3L657.1,706.0L658.6,705.6L660.1,705.3L661.5,705.0L663.0,704.7L664.5,704.4L666.0,704.1L667.4,703.9L668.9,703.6L670.4,703.3L671.9,703.0L673.4,702.8L674.9,702.5L676.4,702.3L677.9,702.1L679.4,701.8L680.8,701.6L682.3,701.4L683.8,701.2L685.3,701.0L686.8,700.9L688.3,700.7L689.8,700.6L691.3,700.4L692.8,700.3L694.3,700.2L695.8,700.1L697.3,700.0L698.8,699.9L700.3,699.8L701.8,699.8L703.3,699.7L704.8,699.7L706.3,699.7L707.8,699.7L709.3,699.7L710.8,699.7L712.3,699.8L713.8,699.9L715.3,699.9L716.7,700.0L718.2,700.1L719.7,700.3L721.2,700.4L722.7,700.6L724.2,700.8L725.6,701.0L727.1,701.2L728.6,701.4L730.1,701.6L731.5,701.9L733.0,702.1L734.5,702.4L735.9,702.6L737.4,702.9L738.9,703.2L740.3,703.5L741.8,703.8L743.3,704.1L744.8,704.4L746.2,704.7L747.7,705.0L749.2,705.3L750.6,705.6L752.1,705.9L753.6,706.3L755.1,706.6L756.5,706.9L758.0,707.2L759.5,707.4L761.0,707.7L762.5,708.0L763.9,708.3L765.4,708.6L766.9,708.8L768.4,709.1L769.9,709.3L771.4,709.6L772.9,709.8L774.3,710.0L775.8,710.2L777.3,710.5L778.8,710.7L780.3,710.9L781.8,711.0L783.3,711.2L784.8,711.4L786.3,711.5L787.8,711.7L789.3,711.8L790.8,712.0L792.2,712.1L793.7,712.2L795.2,712.3L796.7,712.4L798.2,712.4L799.7,712.5L801.2,712.5L802.7,712.6L804.2,712.6L805.7,712.6L807.2,712.6L808.7,712.6L810.2,712.6L811.7,712.5L813.2,712.4L814.7,712.4L816.1,712.3L817.6,712.2L819.1,712.1L820.6,711.9L822.1,711.8L823.6,711.6L825.1,711.5L826.6,711.3L828.0,711.1L829.5,710.9L831.0,710.6L832.5,710.4L834.0,710.2L835.4,709.9L836.9,709.6L838.4,709.4L839.9,709.1L841.3,708.8L842.8,708.4L844.3,708.1L845.7,707.8L847.2,707.4L848.7,707.1L850.1,706.7L851.6,706.3L853.0,706.0L854.5,705.6L855.9,705.2L857.4,704.8L858.8,704.3L860.3,703.9L861.7,703.5L863.2,703.0L864.6,702.6L866.0,702.1L867.5,701.6L868.9,701.2L870.3,700.7L871.7,700.2L873.1,699.7L874.6,699.2L876.0,698.7L877.4,698.2L878.8,697.6L880.2,697.1L881.6,696.6L883.0,696.0L884.4,695.5L885.8,694.9L887.1,694.3L888.5,693.7L889.9,693.2L891.3,692.6L892.6,692.0L894.0,691.3L895.4,690.7L896.7,690.1L898.1,689.5L899.4,688.8L900.8,688.2L902.1,687.5L903.5,686.8L904.8,686.1L906.1,685.5L907.5,684.8L908.8,684.1L910.1,683.4L911.4,682.7L912.7,681.9L914.1,681.2L915.4,680.5L916.7,679.8L918.0,679.1L919.3,678.4L920.7,677.7L922.0,676.9L923.3,676.2L924.6,675.5L926.0,674.9L927.3,674.2L928.6,673.5L930.0,672.8L931.3,672.2L932.7,671.5L934.0,670.9L935.4,670.2L936.8,669.6L938.1,669.0L939.5,668.4L940.9,667.7L942.2,667.1L943.6,666.5L945.0,666.0L946.4,665.4L947.8,664.8L949.2,664.2L950.6,663.7L951.9,663.1L953.3,662.6L954.7,662.0L956.2,661.5L957.6,661.0L959.0,660.4L960.4,659.9L961.8,659.4L963.2,658.9L964.6,658.4L966.0,658.0L967.5,657.5L968.9,657.0L970.3,656.5L971.8,656.1L973.2,655.6L974.6,655.2L976.1,654.7L977.5,654.3L978.9,653.9L980.4,653.5L981.8,653.1L983.3,652.7L984.7,652.3L986.1,651.9L987.6,651.5L989.0,651.1L990.5,650.7L991.9,650.4L993.4,650.0L994.9,649.6L996.3,649.3L997.8,648.9L999.2,648.6L1000.7,648.3L1002.1,647.9L1003.6,647.6L1005.1,647.3L1006.5,647.0L1008.0,646.7L1009.5,646.4L1010.9,646.1L1012.4,645.8L1013.9,645.5L1015.4,645.2L1016.8,644.9L1018.3,644.6L1019.8,644.3L1021.3,644.1L1022.7,643.8L1024.2,643.5L1025.7,643.3L1027.2,643.0L1028.6,642.7L1030.1,642.5L1031.6,642.2L1033.1,642.0L1034.6,641.8L1036.0,641.5L1037.5,641.3L1039.0,641.0L1040.5,640.8L1042.0,640.6L1043.5,640.4L1044.9,640.1L1046.4,639.9L1047.9,639.7L1049.4,639.5L1050.9,639.3L1052.4,639.0L1053.9,638.8L1055.3,638.6L1056.8,638.4L1058.3,638.2L1059.8,638.0L1061.3,637.8L1062.8,637.6L1064.3,637.4L1065.8,637.2L1067.2,637.0L1068.7,636.8L1070.2,636.7L1071.7,636.5L1073.2,636.3L1074.7,636.1L1076.2,636.0L1077.7,635.8L1079.2,635.7L1080.7,635.5L1082.1,635.4L1083.6,635.2L1085.1,635.1L1086.6,634.9L1088.1,634.8L1089.6,634.7L1091.1,634.6L1092.6,634.5L1094.1,634.3L1095.6,634.2L1097.1,634.1L1098.6,634.1L1100.1,634.0L1101.6,633.9L1103.1,633.8L1104.6,633.8L1106.1,633.7L1107.6,633.7L1109.1,633.6L1110.6,633.6L1112.1,633.5L1113.6,633.5L1115.1,633.4L1116.6,633.4L1118.1,633.4L1119.6,633.4L1121.1,633.3L1122.6,633.3L1124.1,633.3L1125.6,633.3L1127.1,633.3L1128.6,633.2L1130.1,633.2L1131.6,633.2L1133.1,633.2L1134.6,633.2L1136.1,633.2L1137.6,633.1L1139.1,633.1L1140.6,633.1L1142.1,633.1L1143.6,633.1L1145.1,633.1L1146.6,633.0L1148.1,633.0L1149.6,633.0L1151.1,633.0L1152.6,633.0L1154.1,633.0L1155.6,633.0L1157.1,633.0L1158.6,633.0L1160.1,632.9L1161.6,632.9L1163.1,632.9L1164.6,632.9L1166.1,632.9L1167.6,632.9L1169.1,632.9L1170.6,632.9L1172.1,632.9L1173.6,632.9L1175.1,632.9L1176.6,632.9L1178.1,632.9L1179.6,632.9L1181.1,632.8L1182.6,632.8L1184.1,632.8L1185.6,632.8L1187.1,632.8L1188.6,632.8L1190.1,632.8L1191.6,632.8L1193.1,632.8L1194.6,632.8L1196.1,632.8L1197.6,632.8L1199.1,632.8L1200.6,632.8L1202.1,632.8L1203.6,632.8L1205.1,632.8L1206.6,632.8L1208.1,632.8L1209.6,632.8L1211.1,632.8L1212.6,632.8L1214.1,632.8L1215.6,632.8L1217.1,632.8L1218.6,632.8L1220.1,632.8L1221.6,632.8L1223.1,632.8L1224.6,632.8L1226.1,632.8L1227.6,632.8L1229.1,632.8L1230.6,632.8L1232.1,632.8L1233.6,632.8L1235.1,632.8L1236.6,632.8L1238.1,632.8L1239.6,632.8L1241.1,632.8L1242.6,632.8L1244.1,632.8L1245.6,632.8L1247.1,632.8L1248.6,632.9L1250.1,632.9L1251.6,632.9L1253.1,632.9L1254.6,632.9L1256.1,632.9L1257.6,632.9L1259.1,632.9L1260.6,632.9L1262.1,632.9L1263.6,632.9L1265.1,632.9L1266.6,632.9L1268.1,632.9L1269.6,632.9L1271.1,632.9L1272.6,632.9L1274.1,632.9L1275.6,632.9L1277.1,632.9L1278.6,632.9L1280.1,632.9L1281.6,632.9L1283.1,632.9L1284.6,632.9L1286.1,632.9L1287.6,632.9L1289.1,632.9L1290.6,632.9L1292.1,632.9L1293.6,632.9L1295.1,632.9L1296.6,633.0L1298.1,633.0L1299.6,633.0L1301.1,633.0L1302.6,633.0L1304.1,633.0L1305.6,633.0L1307.1,633.0L1308.6,633.0L1310.1,633.0L1311.6,633.0L1313.1,633.0L1314.6,633.0L1316.1,633.0L1317.6,633.0L1319.1,633.0L1320.6,633.0L1322.1,633.0L1323.6,633.0L1325.1,633.0L1326.6,633.0L1328.1,633.0L1329.6,633.0L1331.1,633.0L1332.6,633.0L1334.1,633.0L1335.6,633.0L1337.1,633.0L1338.6,633.0L1340.1,633.0L1341.6,633.0L1343.1,633.0L1344.6,633.0L1346.1,633.0L1347.6,633.0L1349.1,633.0L1350.6,633.0L1352.1,633.0L1353.6,633.0L1355.1,633.0L1356.6,632.9L1358.1,632.9L1359.6,632.9L1361.1,632.9L1362.6,632.9L1364.1,632.9L1365.6,632.9L1367.1,632.9L1368.6,632.9L1370.1,632.9L1371.6,632.9L1373.1,632.9L1374.6,632.9L1376.1,632.9L1377.6,632.9L1379.1,632.9L1380.6,632.9L1382.1,632.9L1383.6,632.9L1385.1,632.9L1386.6,632.9L1388.1,632.9L1389.6,632.9L1391.1,632.9L1392.6,632.9L1394.1,632.9L1395.6,632.9L1397.1,632.9L1398.6,632.9L1400.1,632.9L1401.6,632.9L1403.1,632.9L1404.6,632.9L1406.1,632.9L1407.6,632.9L1409.1,632.9L1410.6,632.9L1412.1,632.9L1413.6,632.9L1415.1,632.9L1416.6,632.9L1418.1,632.9L1419.6,632.9L1421.1,632.9L1422.6,632.9L1424.1,632.8L1425.6,632.8L1427.1,632.8L1428.6,632.8L1430.1,632.8L1431.6,632.8L1433.1,632.8L1434.6,632.8L1436.1,632.8L1437.6,632.8L1439.1,632.8L1440.6,632.8L1442.1,632.8L1443.6,632.8L1445.1,632.8L1446.6,632.8L1448.1,632.8L1449.6,632.8L1451.1,632.8L1452.6,632.8L1454.1,632.8L1455.6,632.8L1457.1,632.8L1458.6,632.8L1460.1,632.8L1461.6,632.8L1463.1,632.8L1464.6,632.8L1466.1,632.8L1467.6,632.8L1469.1,632.8L1470.6,632.8L1472.1,632.8L1473.6,632.8L1475.1,632.8L1476.6,632.8L1478.1,632.8L1479.6,632.8L1481.1,632.8L1482.6,632.8L1484.1,632.8L1485.6,632.8L1487.1,632.8L1488.6,632.8L1490.1,632.8L1491.6,632.8L1493.1,632.8L1494.6,632.8L1496.1,632.8L1497.6,632.8L1499.1,632.8L1500.6,632.8L1502.1,632.8L1503.6,632.8L1505.1,632.8L1506.6,632.8L1508.1,632.8L1509.6,632.8L1511.1,632.9L1512.6,632.9L1514.1,632.9L1515.6,632.9L1517.1,632.9L1518.6,632.9L1520.1,632.9L1521.6,632.9L1523.1,632.9L1524.6,632.9L1526.1,632.9L1527.6,632.9L1529.0,632.9" stroke="#000" stroke-width="8.3"/>
</g>
<g fill="none" stroke="#000">
<path d="M245.2,1175.6V1162.6M245.2,88.5V101.0M312.7,1175.6V1162.6M312.7,88.5V101.0M380.2,1175.6V1162.6M380.2,88.5V101.0M447.7,1175.6V1162.6M447.7,88.5V101.0M582.7,1175.6V1162.6M582.7,88.5V101.0M650.2,1175.6V1162.6M650.2,88.5V101.0M717.7,1175.6V1162.6M717.7,88.5V101.0M785.2,1175.6V1162.6M785.2,88.5V101.0M920.2,1175.6V1162.6M920.2,88.5V101.0M987.7,1175.6V1162.6M987.7,88.5V101.0M1055.2,1175.6V1162.6M1055.2,88.5V101.0M1122.7,1175.6V1162.6M1122.7,88.5V101.0M1257.7,1175.6V1162.6M1257.7,88.5V101.0M1325.2,1175.6V1162.6M1325.2,88.5V101.0M1392.7,1175.6V1162.6M1392.7,88.5V101.0M1460.2,1175.6V1162.6M1460.2,88.5V101.0M177.7,224.5H190.2M1541.8,224.5H1529.3M177.7,495.8H190.2M1541.8,495.8H1529.3M177.7,768.5H190.2M1541.8,768.5H1529.3M177.7,1040.2H190.2M1541.8,1040.2H1529.3" stroke-width="4.6"/>
<path d="M515.2,1175.6V1152.1M515.2,88.5V111.0M852.7,1175.6V1152.1M852.7,88.5V111.0M1190.2,1175.6V1152.1M1190.2,88.5V111.0M1527.7,1175.6V1152.1M1527.7,88.5V111.0M177.7,360.2H200.5M1541.8,360.2H1518.8M177.7,631.7H200.5M1541.8,631.7H1518.8M177.7,904.7H200.5M1541.8,904.7H1518.8" stroke-width="5.7"/>
<path d="M1538.2,88.5V1175.6" stroke="#777" stroke-width="2.4" opacity="0.55"/>
<path d="M177.7,1175.6999999999998H1541.8" stroke-width="6.6"/>
<path d="M177.7,1178.1V88.5H1541.8V1178.1" stroke-width="5.0" stroke-linejoin="miter"/>
</g>
<g class="sans" font-size="46.5" fill="#000">
<text transform="translate(177.7,1235.2) scale(1,1.04)" text-anchor="middle">200</text><text transform="translate(515.2,1235.2) scale(1,1.04)" text-anchor="middle">250</text><text transform="translate(852.7,1235.2) scale(1,1.04)" text-anchor="middle">300</text><text transform="translate(1190.2,1235.2) scale(1,1.04)" text-anchor="middle">350</text><text transform="translate(1527.7,1235.2) scale(1,1.04)" text-anchor="middle">400</text>
<text transform="translate(154.3,101.5) scale(1,1.04)" text-anchor="end">20</text><text transform="translate(154.3,373.6) scale(1,1.04)" text-anchor="end">10</text><text transform="translate(154.3,645.7) scale(1,1.04)" text-anchor="end">0</text><text transform="translate(154.3,917.8) scale(1,1.04)" text-anchor="end">-10</text><text transform="translate(154.3,1189.9) scale(1,1.04)" text-anchor="end">-20</text>
<text transform="translate(1562.8,101.5) scale(1,1.04)" text-anchor="start">20</text><text transform="translate(1562.8,373.6) scale(1,1.04)" text-anchor="start">10</text><text transform="translate(1562.8,645.7) scale(1,1.04)" text-anchor="start">0</text><text transform="translate(1562.8,917.8) scale(1,1.04)" text-anchor="start">-10</text><text transform="translate(1562.8,1189.9) scale(1,1.04)" text-anchor="start">-20</text>
</g>
<g fill="none" stroke-width="8" stroke-linecap="round">
<path d="M591,212.6H777" stroke="#ff0000"/>
<path d="M591,295H776" stroke="#000"/>
<path d="M593.5,371.6H778.5" stroke="#0000ff"/>
</g>
<g class="serif" font-size="48" fill="#000">
<text transform="translate(798.6,228.7) scale(1.052,1)">Exp ECD spectrum of <tspan font-weight="bold">1</tspan></text>
<text transform="translate(793.6,313) scale(1.052,1)">Cal ECD spectrum of 8′<tspan font-style="italic">S</tspan>-<tspan font-weight="bold">1</tspan></text>
<text transform="translate(795.4,392.5) scale(1.052,1)">Cal ECD spectrum of 8′<tspan font-style="italic">R</tspan>-<tspan font-weight="bold">1</tspan></text>
</g>
<g font-size="50" fill="#000">
<text class="serif" x="786.8" y="1291.8">λ</text>
<text class="sans" transform="translate(826.2,1291.8) scale(1.044,1)">/ nm</text>
</g>
<text transform="translate(93.8,800.0) rotate(-90)" fill="#000"><tspan class="serif" font-size="50" x="-0.1" y="0">Δ</tspan><tspan class="serif" font-size="50" x="33.2" y="0">ε</tspan><tspan class="sans" font-size="70.5" x="68.2" y="0">(</tspan><tspan class="sans" font-size="51" x="93.6" y="0">M</tspan><tspan class="sans" font-size="50" x="135.7" y="-27.2">–</tspan><tspan class="sans" font-size="51" x="163.0" y="-27.2">1</tspan><tspan class="sans" font-size="50" x="192.6" y="0">cm</tspan><tspan class="sans" font-size="50" x="259.8" y="-27.2">–</tspan><tspan class="sans" font-size="51" x="288.4" y="-27.2">1</tspan><tspan class="sans" font-size="70.5" x="317.7" y="0">)</tspan></text>
</svg>
</body>
</html>
